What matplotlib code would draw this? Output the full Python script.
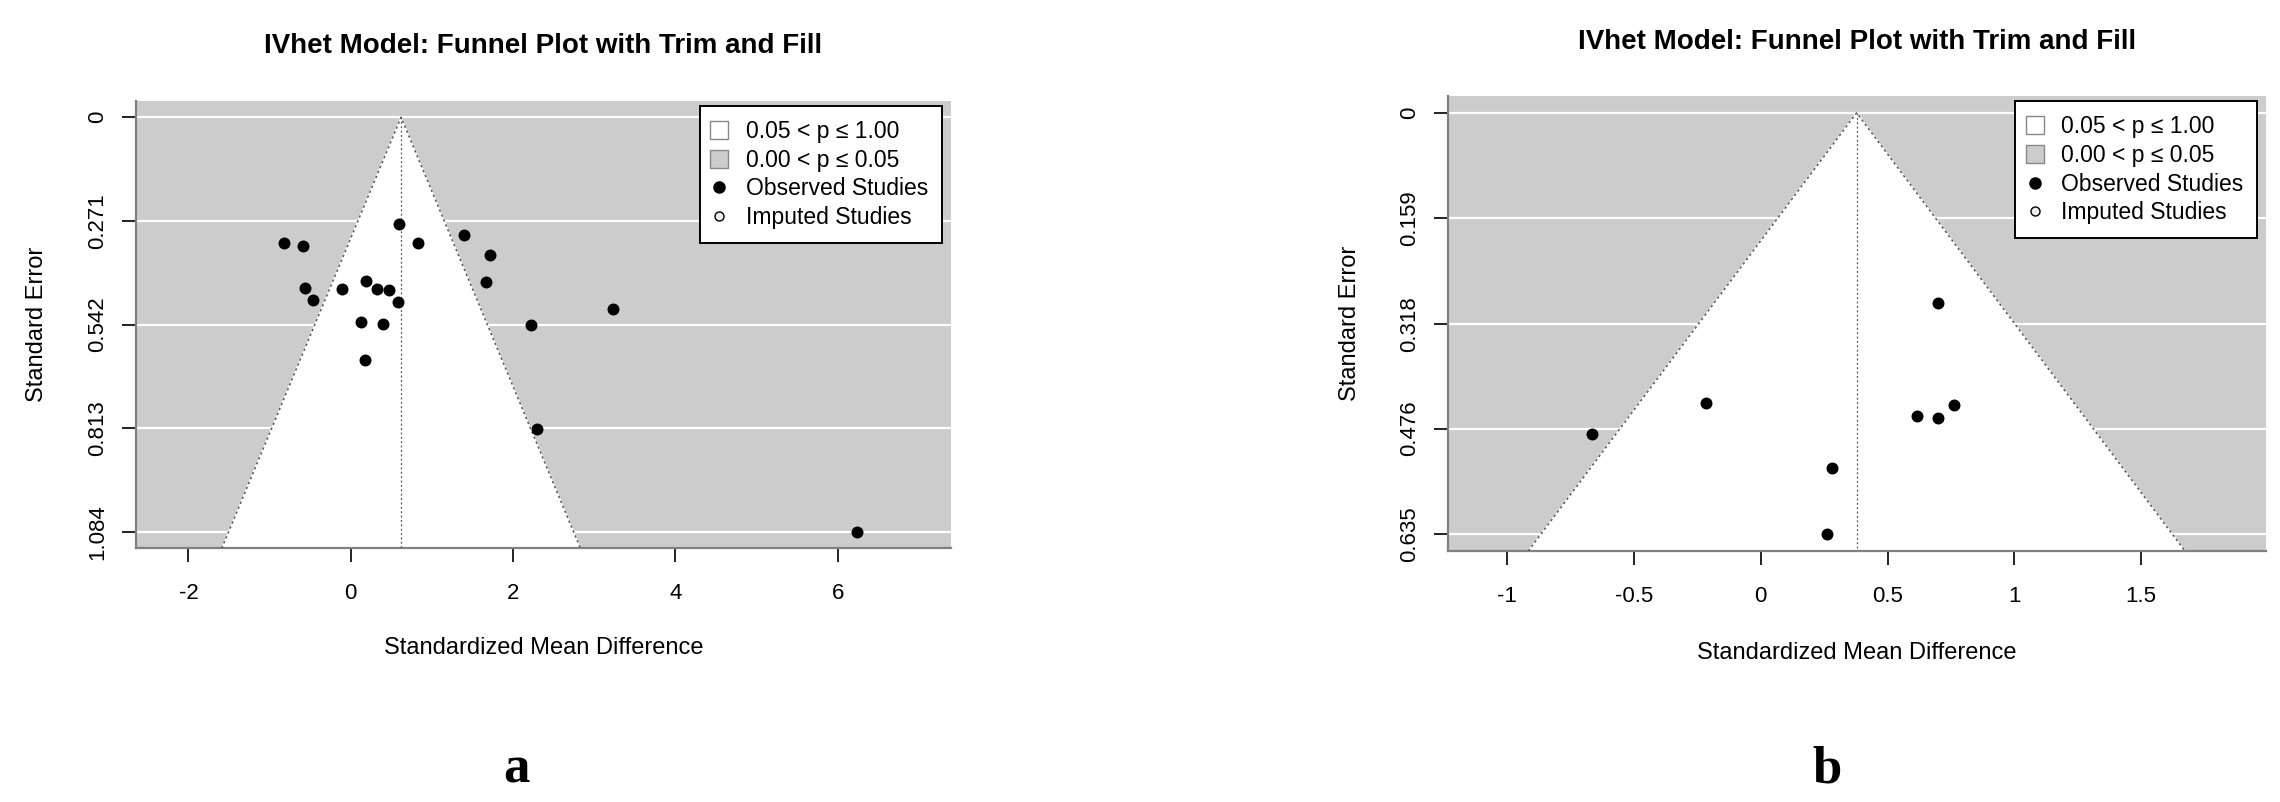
import numpy as np
import matplotlib
matplotlib.use('Agg')
from matplotlib import pyplot as plt
from matplotlib.lines import Line2D

plt.rcParams['font.family'] = ['Liberation Sans', 'DejaVu Sans']
plt.rcParams['axes.unicode_minus'] = False

# panel a: observed studies
smd_a = [0.599, -0.826, -0.584, 0.825, 1.392, 1.712, 1.663, -0.563, -0.468, -0.111, 0.193,
         0.320, 0.468, 0.579, 0.131, 0.402, 0.172, 2.225, 3.228, 2.299, 6.240]
se_a = [0.278, 0.329, 0.336, 0.329, 0.309, 0.361, 0.430, 0.446, 0.477, 0.448, 0.427,
        0.450, 0.453, 0.484, 0.535, 0.540, 0.634, 0.543, 0.501, 0.815, 1.085]
center_a = 0.62
se_ticks_a = [0, 0.271, 0.542, 0.813, 1.084]
x_ticks_a = [-2, 0, 2, 4, 6]

# panel b: observed studies
smd_b = [0.698, -0.217, -0.667, 0.618, 0.698, 0.761, 0.281, 0.263]
se_b = [0.286, 0.438, 0.484, 0.457, 0.460, 0.441, 0.536, 0.635]
center_b = 0.378
se_ticks_b = [0, 0.159, 0.318, 0.476, 0.635]
x_ticks_b = [-1, -0.5, 0, 0.5, 1, 1.5]

title = 'IVhet Model: Funnel Plot with Trim and Fill'
legend_labels = ['0.05 < p \u2264 1.00', '0.00 < p \u2264 0.05', 'Observed Studies', 'Imputed Studies']
bg = '#cccccc'


def fmt(v):
    return '{:g}'.format(v)


def funnel(ax, smd, se, center, se_ticks, x_ticks, xlim):
    se_max = se_ticks[-1]
    ext = 0.04 * se_max
    ybot = se_max + ext
    ax.set_xlim(*xlim)
    ax.set_ylim(ybot, -ext)
    ax.set_facecolor(bg)

    for t in se_ticks:
        ax.axhline(t, color='white', lw=1.6, zorder=1)
    half = 1.96 * ybot
    xs = [center - half, center, center + half]
    ys = [ybot, 0, ybot]
    ax.fill(xs, ys, color='white', zorder=2)
    ax.plot(xs, ys, color='#555555', lw=1.1, ls=(0, (1.5, 2)), zorder=3)
    ax.plot([center, center], [0, ybot], color='#555555', lw=0.9, ls=(0, (1.5, 2)), zorder=3)

    ax.scatter(smd, se, s=74, color='black', zorder=5, linewidths=0)

    ax.set_xticks(x_ticks)
    ax.set_xticklabels([fmt(v) for v in x_ticks])
    ax.set_yticks(se_ticks)
    ax.set_yticklabels([fmt(v) for v in se_ticks], rotation=90, va='center')
    ax.tick_params(axis='both', length=10, width=1.4, color='#222222', labelsize=16)
    ax.tick_params(axis='x', pad=15)
    ax.tick_params(axis='y', pad=10)
    for s in ['top', 'right']:
        ax.spines[s].set_visible(False)
    for s in ['left', 'bottom']:
        ax.spines[s].set_color('#808080')
        ax.spines[s].set_linewidth(1.6)

    ax.set_title(title, fontsize=20, fontweight='bold', pad=34)
    ax.set_xlabel('Standardized Mean Difference', fontsize=17, va='center')
    ax.set_ylabel('Standard Error', fontsize=17, va='center')

    handles = [
        Line2D([], [], ls='none', marker='s', markersize=13, markerfacecolor='white',
               markeredgecolor='#888888', markeredgewidth=1),
        Line2D([], [], ls='none', marker='s', markersize=13, markerfacecolor=bg,
               markeredgecolor='#888888', markeredgewidth=1),
        Line2D([], [], ls='none', marker='o', markersize=8, markerfacecolor='black',
               markeredgecolor='black'),
        Line2D([], [], ls='none', marker='o', markersize=6.5, markerfacecolor='#eeeeee',
               markeredgecolor='black', markeredgewidth=1),
    ]
    leg = ax.legend(handles, legend_labels, loc='upper right', bbox_to_anchor=(0.989, 0.988),
                    borderaxespad=0, fontsize=16.5, frameon=True, fancybox=False,
                    borderpad=0.6, handlelength=0.5, handletextpad=0.9, labelspacing=0.25)
    leg.get_frame().set_edgecolor('black')
    leg.get_frame().set_linewidth(1.4)
    leg.get_frame().set_facecolor('white')
    leg.get_frame().set_alpha(1)
    leg.set_zorder(10)


fig = plt.figure(figsize=(22.8, 8.02), dpi=100)
ax1 = fig.add_axes([0.05965, 0.31633, 0.35732, 0.55810])
ax2 = fig.add_axes([0.63509, 0.31297, 0.35877, 0.56733])

funnel(ax1, smd_a, se_a, center_a, se_ticks_a, x_ticks_a, (-2.646, 7.392))
funnel(ax2, smd_b, se_b, center_b, se_ticks_b, x_ticks_b, (-1.233, 1.992))

ax1.xaxis.set_label_coords(0.5, -0.2227)
ax1.yaxis.set_label_coords(-0.1215, 0.5)
ax2.xaxis.set_label_coords(0.5, -0.2235)
ax2.yaxis.set_label_coords(-0.1198, 0.5)

fig.text(516.5 / 2280, 0.0249, 'a', ha='center', va='baseline', fontsize=38,
         fontweight='bold', family=['Liberation Serif', 'DejaVu Serif'])
fig.text(1826.7 / 2280, 0.0249, 'b', ha='center', va='baseline', fontsize=38,
         fontweight='bold', family=['Liberation Serif', 'DejaVu Serif'])

fig.savefig('out.png', dpi=100, facecolor='white')
